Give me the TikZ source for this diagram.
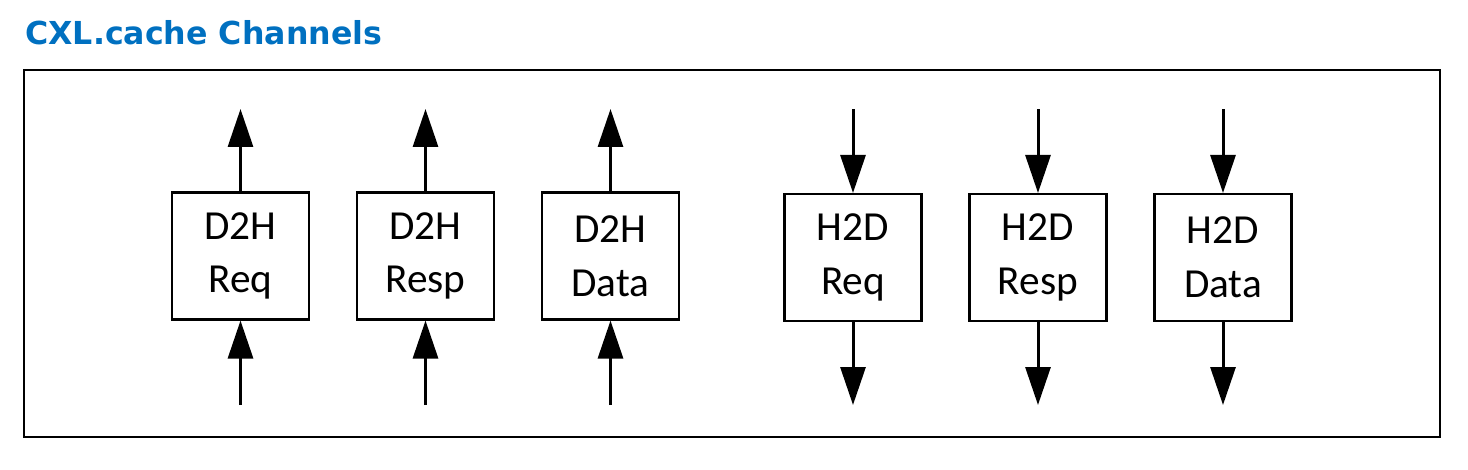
\documentclass[tikz,border=0pt]{standalone}
\usepackage{fontspec}
\setmainfont{Carlito}
\newfontfamily\titlefont{DejaVu Sans}
\usetikzlibrary{arrows.meta}
\definecolor{cxlblue}{RGB}{0,112,192}

\begin{document}
\begin{tikzpicture}[x=0.02cm, y=-0.02cm,
  chan/.style={draw, line width=1.2pt, minimum width=2.74cm, minimum height=2.54cm,
    align=center, inner sep=0pt, font=\fontsize{23.5}{30.5}\selectfont},
  flow/.style={line width=1.7pt, -{Triangle[length=0.76cm, width=0.5cm]}}]
\useasboundingbox (0, 0) rectangle (1468, 470);
\node[anchor=base west, inner sep=0pt, text=cxlblue, font=\titlefont\bfseries\fontsize{18}{21}\selectfont] (title) at (25, 44) {CXL.cache Channels};
\draw[line width=1.4pt] (24, 70) rectangle (1440, 437);

\node[chan] (d2hreq) at (240.5, 256) {D2H\\Req};
\node[chan] (d2hresp) at (425.5, 256) {D2H\\Resp};
\node[chan] (d2hdata) at (610.5, 256) {D2H\\Data};
\node[chan] (h2dreq) at (853, 257.5) {H2D\\Req};
\node[chan] (h2dresp) at (1038, 257.5) {H2D\\Resp};
\node[chan] (h2ddata) at (1223, 257.5) {H2D\\Data};

\coordinate (d2hreqin) at (240.5, 405);
\coordinate (d2hreqout) at (240.5, 109);
\coordinate (d2hrespin) at (425.5, 405);
\coordinate (d2hrespout) at (425.5, 109);
\coordinate (d2hdatain) at (610.5, 405);
\coordinate (d2hdataout) at (610.5, 109);
\coordinate (h2dreqin) at (853, 109);
\coordinate (h2dreqout) at (853, 405);
\coordinate (h2drespin) at (1038, 109);
\coordinate (h2drespout) at (1038, 405);
\coordinate (h2ddatain) at (1223, 109);
\coordinate (h2ddataout) at (1223, 405);

\draw[flow] (d2hreqin) -- (d2hreq);
\draw[flow] (d2hreq) -- (d2hreqout);
\draw[flow] (d2hrespin) -- (d2hresp);
\draw[flow] (d2hresp) -- (d2hrespout);
\draw[flow] (d2hdatain) -- (d2hdata);
\draw[flow] (d2hdata) -- (d2hdataout);
\draw[flow] (h2dreqin) -- (h2dreq);
\draw[flow] (h2dreq) -- (h2dreqout);
\draw[flow] (h2drespin) -- (h2dresp);
\draw[flow] (h2dresp) -- (h2drespout);
\draw[flow] (h2ddatain) -- (h2ddata);
\draw[flow] (h2ddata) -- (h2ddataout);
\end{tikzpicture}
\end{document}
